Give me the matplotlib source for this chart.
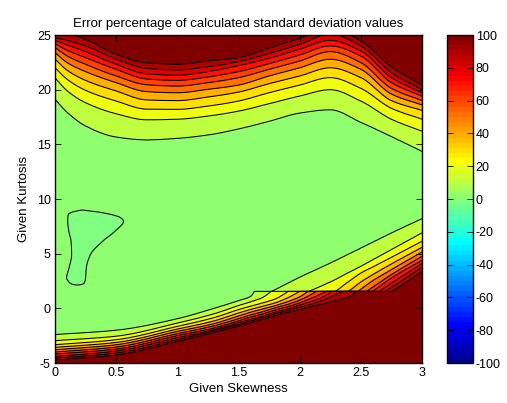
import numpy as np
import matplotlib
matplotlib.use("Agg")
import matplotlib.pyplot as plt
from matplotlib.colors import ListedColormap, Normalize
from matplotlib.cm import ScalarMappable

plt.rcParams['font.family'] = ['Liberation Sans', 'DejaVu Sans']
plt.rcParams['axes.unicode_minus'] = False

# ---------------- data ----------------
title = "Error percentage of calculated standard deviation values"
xlabel = "Given Skewness"
ylabel = "Given Kurtosis"
x_ticks = [0, 0.5, 1, 1.5, 2, 2.5, 3]
y_ticks = [-5, 0, 5, 10, 15, 20, 25]
cbar_ticks = [-100, -80, -60, -40, -20, 0, 20, 40, 60, 80, 100]

line_levels = [10, 20, 30, 40, 50, 60, 70, 80, 90, 100]
y_cut = 1.55          # kurtosis of the horizontal discontinuity

# upper contour family (top of the plot): kurtosis of each level line per skewness column
top_x = [0, 0.1, 0.25, 0.5, 0.75, 1.0, 1.25, 1.5, 1.75, 2.0, 2.25, 2.5, 2.75, 3.0]
top_lines = [
    [19.1, 17.9, 16.67, 15.66, 15.4, 15.54, 15.85, 16.4, 17.1, 17.85, 18.15, 17.0, 15.7, 14.35],
    [21.1, 19.9, 18.81, 17.8, 17.25, 17.3, 17.59, 18.04, 18.72, 19.42, 20.0, 18.96, 17.3, 16.2],
    [22.0, 20.94, 19.94, 18.96, 18.22, 18.2, 18.5, 18.96, 19.72, 20.42, 21.1, 20.12, 18.3, 17.3],
    [22.8, 21.77, 20.85, 19.88, 19.06, 19.0, 19.33, 19.78, 20.55, 21.25, 22.0, 21.1, 19.0, 18.1],
    [23.4, 22.47, 21.65, 20.64, 19.82, 19.72, 20.03, 20.42, 21.25, 22.0, 22.78, 21.86, 19.6, 18.6],
    [23.85, 23.08, 22.32, 21.25, 20.45, 20.33, 20.64, 21.1, 21.86, 22.62, 23.48, 22.47, 20.12, 19.0],
    [24.2, 23.6, 22.93, 21.86, 20.98, 20.85, 21.16, 21.65, 22.38, 23.17, 24.0, 23.08, 20.64, 19.4],
    [24.5, 24.09, 23.48, 22.32, 21.45, 21.32, 21.65, 22.2, 22.87, 23.7, 24.5, 23.54, 21.1, 19.7],
    [24.76, 24.5, 24.0, 22.78, 21.95, 21.8, 22.1, 22.56, 23.3, 24.15, 25.1, 24.0, 21.55, 20.0],
    [25.4, 25.2, 24.6, 23.23, 22.45, 22.32, 22.62, 22.93, 23.8, 24.7, 25.6, 24.45, 22.07, 20.4],
]

# lower-right contour family above the discontinuity
rb_x = [1.7, 1.76, 2.0, 2.25, 2.4, 2.5, 2.6, 2.75, 3.0]
rb_lines = [
    [1.2, 1.5, 2.85, 4.15, 4.97, 5.52, 6.07, 6.9, 8.21],
    [0.9, 1.1, 1.35, 2.41, 3.27, 3.84, 4.45, 5.37, 6.9],
    [0.6, 0.8, 1.0, 1.35, 2.45, 3.23, 3.8, 4.67, 6.13],
    [0.3, 0.5, 0.7, 0.95, 1.6, 2.41, 3.1, 4.06, 5.58],
    [0.0, 0.2, 0.4, 0.65, 0.9, 1.75, 2.55, 3.54, 5.16],
    [-0.3, -0.1, 0.1, 0.35, 0.6, 1.2, 1.95, 3.08, 4.76],
    [-0.6, -0.4, -0.2, 0.05, 0.3, 0.9, 1.6, 2.78, 4.39],
    [-0.9, -0.7, -0.5, -0.25, 0.0, 0.6, 1.2, 2.32, 4.09],
    [-1.2, -1.0, -0.8, -0.55, -0.3, 0.3, 0.9, 1.92, 3.78],
    [-1.5, -1.3, -1.1, -0.85, -0.6, 0.0, 0.6, 1.55, 3.4],
]

# bottom contour family below the discontinuity
low_x = [0.0, 0.5, 1.0, 1.3, 1.5, 1.6, 1.7, 1.8, 1.9, 2.0, 2.1, 2.2, 2.3, 2.4, 2.5, 3.0]
low_lines = [
    [-2.4, -2.0, -0.95, 0.0, 0.7, 1.1, 3.0, 3.2, 3.4, 3.6, 3.8, 4.0, 4.2, 4.4, 5.4, 6.4],
    [-2.96, -2.55, -1.35, -0.5, 0.25, 0.6, 1.0, 1.9, 3.0, 3.2, 3.4, 3.6, 3.8, 4.0, 5.0, 6.0],
    [-3.33, -2.87, -1.65, -0.85, -0.12, 0.2, 0.5, 0.85, 1.5, 2.3, 3.0, 3.2, 3.4, 3.6, 4.6, 5.6],
    [-3.57, -3.12, -1.9, -1.15, -0.43, -0.1, 0.2, 0.5, 0.95, 1.55, 2.2, 2.8, 3.0, 3.2, 4.2, 5.2],
    [-3.79, -3.33, -2.11, -1.4, -0.7, -0.35, -0.05, 0.25, 0.6, 1.05, 1.75, 2.1, 2.6, 2.8, 3.8, 4.8],
    [-4.0, -3.54, -2.32, -1.6, -0.95, -0.6, -0.3, 0.05, 0.35, 0.75, 1.3, 2.0, 2.3, 2.5, 3.4, 4.4],
    [-4.18, -3.73, -2.5, -1.8, -1.15, -0.8, -0.5, -0.15, 0.15, 0.5, 0.95, 1.45, 1.9, 2.2, 3.0, 4.0],
    [-4.4, -3.91, -2.69, -1.95, -1.32, -1.0, -0.7, -0.35, -0.05, 0.3, 0.65, 1.1, 1.8, 2.0, 2.6, 3.6],
    [-4.55, -4.09, -2.87, -2.05, -1.47, -1.15, -0.85, -0.5, -0.2, 0.1, 0.4, 0.8, 1.3, 1.75, 2.2, 3.2],
    [-4.7, -4.25, -3.02, -2.2, -1.6, -1.3, -1.0, -0.65, -0.35, -0.1, 0.2, 0.45, 0.75, 1.05, 1.8, 2.8],
]

# closed 0 % contour (small negative-error island): skewness range per kurtosis row
blob_y = [2.12, 2.2, 2.47, 2.78, 3.7, 4.92, 6.14, 7.05, 7.97, 8.33, 8.58, 8.8, 9.0]
blob_xl = [0.18, 0.14, 0.109, 0.095, 0.115, 0.136, 0.131, 0.113, 0.104, 0.105, 0.109, 0.14, 0.22]
blob_xr = [0.18, 0.225, 0.245, 0.25, 0.256, 0.29, 0.39, 0.49, 0.56, 0.53, 0.46, 0.36, 0.22]


# ---------------- build the grid that contourf needs ----------------
def pchip(xq, xs, ys):
    """shape-preserving piecewise cubic through the read points"""
    xs = np.asarray(xs, float); ys = np.asarray(ys, float)
    h = np.diff(xs); d = np.diff(ys) / h
    m = np.empty_like(ys)
    m[0], m[-1] = d[0], d[-1]
    for i in range(1, len(xs) - 1):
        if d[i - 1] * d[i] <= 0:
            m[i] = 0.0
        else:
            w1 = 2 * h[i] + h[i - 1]; w2 = h[i] + 2 * h[i - 1]
            m[i] = (w1 + w2) / (w1 / d[i - 1] + w2 / d[i])
    xq = np.clip(xq, xs[0], xs[-1])
    i = np.clip(np.searchsorted(xs, xq) - 1, 0, len(xs) - 2)
    t = (xq - xs[i]) / h[i]
    return ((2 * t**3 - 3 * t**2 + 1) * ys[i] + (t**3 - 2 * t**2 + t) * h[i] * m[i]
            + (-2 * t**3 + 3 * t**2) * ys[i + 1] + (t**3 - t**2) * h[i] * m[i + 1])


def ordered(v, sign):
    # keep successive level lines in order (sign=+1 increasing, -1 decreasing)
    v = np.array(v) * sign
    v = np.maximum.accumulate(v + np.arange(len(v)) * 1e-4)
    return v * sign


lev = np.array(line_levels, dtype=float)
xg = np.linspace(0, 3, 361)
yg = np.union1d(np.linspace(-5, 25, 751), [y_cut - 0.004, y_cut + 0.004])
LOW = np.array([pchip(xg, low_x, r) for r in low_lines])
RB = np.array([pchip(xg, rb_x, r) for r in rb_lines])
TOP = np.array([pchip(xg, top_x, r) for r in top_lines])
Z = np.empty((len(yg), len(xg)))
for j in range(len(xg)):
    lo = ordered(LOW[:, j], -1)
    rb = ordered(RB[:, j], -1)
    tp = ordered(TOP[:, j], 1)
    zl = np.interp(yg, np.r_[-60, lo[::-1], lo[0] + 0.3, 60],
                   np.r_[300, lev[::-1], 5, 5])
    zu = np.interp(yg, np.r_[-60, rb[::-1], rb[0] + 0.3, tp[0] - 0.3, tp, 60],
                   np.r_[300, lev[::-1], 5, 5, lev, 300])
    Z[:, j] = np.where(yg < y_cut, zl, zu)

XX, YY = np.meshgrid(xg, yg)
xl = pchip(yg, blob_y, blob_xl)[:, None]
xr = pchip(yg, blob_y, blob_xr)[:, None]
bval = np.clip(-np.minimum(XX - xl, xr - XX) * 500, -3, 1e4)
rows_out = (yg < blob_y[0]) | (yg > blob_y[-1])
bval[rows_out, :] = 1e4
Z = np.minimum(Z, bval)


# ---------------- MATLAB-like jet colours ----------------
def jet64(n=64):
    t = np.arange(1, n + 1) / n
    r = np.clip(np.minimum(4 * t - 1.5, -4 * t + 4.5), 0, 1)
    g = np.clip(np.minimum(4 * t - 0.5, -4 * t + 3.5), 0, 1)
    b = np.clip(np.minimum(4 * t + 0.5, -4 * t + 2.5), 0, 1)
    return np.c_[r, g, b]


JET = jet64()


def level_color(v):
    idx = int(np.floor((v + 100) / 200 * 64))
    return JET[min(max(idx, 0), 63)]


fill_levels = [-1000, 0] + line_levels + [10000]
band_colors = [JET[31]] + [level_color(v) for v in [0] + line_levels]

# ---------------- plot ----------------
fig = plt.figure(figsize=(5.07, 4.03), dpi=100)
ax = fig.add_axes([55 / 507, 40 / 403, 367 / 507, 328 / 403])
ax.contourf(xg, yg, Z, levels=fill_levels, colors=band_colors)
ax.contour(xg, yg, Z, levels=[0] + line_levels, colors='k', linewidths=0.75)
ax.set_xlim(0, 3)
ax.set_ylim(-5, 25)
ax.set_xticks(x_ticks)
ax.set_xticklabels(['0', '0.5', '1', '1.5', '2', '2.5', '3'])
ax.set_yticks(y_ticks)
ax.tick_params(direction='in', top=True, right=True, length=4, width=0.6,
               labelsize=9, pad=3)
for s in ax.spines.values():
    s.set_linewidth(1.0)
ax.set_title(title, fontsize=9.5, pad=6)
ax.set_xlabel(xlabel, fontsize=9.5, labelpad=3)
ax.set_ylabel(ylabel, fontsize=9.5, labelpad=5)

cax = fig.add_axes([447 / 507, 40 / 403, 26 / 507, 328 / 403])
sm = ScalarMappable(norm=Normalize(-100, 100), cmap=ListedColormap(JET))
cb = fig.colorbar(sm, cax=cax, ticks=cbar_ticks)
cax.tick_params(direction='in', left=True, right=True, length=4, width=0.6,
                labelsize=9, pad=2)
cb.outline.set_linewidth(1.0)

fig.savefig("out.png", dpi=100)
